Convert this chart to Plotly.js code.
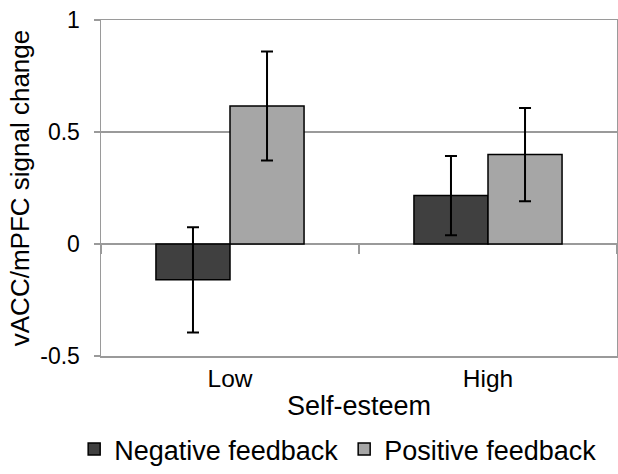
<!DOCTYPE html>
<html>
<head>
<meta charset="utf-8">
<script src="https://cdn.plot.ly/plotly-3.0.1.min.js"></script>
<style>html,body{margin:0;padding:0;background:#fff;}#chart{width:618px;height:474px;}</style>
</head>
<body>
<div id="chart"></div>
<script>
const categories = ["Low", "High"];
const negativeValues = [-0.16, 0.216];
const negativeErrors = [0.235, 0.177];
const positiveValues = [0.616, 0.399];
const positiveErrors = [0.243, 0.208];
const yTickVals = [-0.5, 0, 0.5, 1];
const yTickText = ["-0.5", "0", "0.5", "1"];
const seriesNames = ["Negative feedback", "Positive feedback"];

const FONT = "Liberation Sans, Arial, sans-serif";
const GRAY = "#9a9a9a";

const traces = [
  {
    type: "bar", name: seriesNames[0], x: categories, y: negativeValues,
    marker: {color: "#404040", line: {color: "#000", width: 1.5}},
    error_y: {type: "data", array: negativeErrors, visible: true, color: "#000", thickness: 2, width: 6}
  },
  {
    type: "bar", name: seriesNames[1], x: categories, y: positiveValues,
    marker: {color: "#a6a6a6", line: {color: "#000", width: 1.5}},
    error_y: {type: "data", array: positiveErrors, visible: true, color: "#000", thickness: 2, width: 6}
  },
  {
    // empty helper so the category-divider axis at y = 0 is drawn; draws no marks
    type: "scatter", mode: "none", x: categories, y: [null, null], xaxis: "x2", yaxis: "y",
    showlegend: false, hoverinfo: "skip"
  }
];

const layout = {
  width: 618, height: 474,
  margin: {l: 101, r: 1, t: 20, b: 117},
  paper_bgcolor: "#fff", plot_bgcolor: "#fff",
  font: {family: FONT, color: "#000", size: 23},
  barmode: "group", bargap: 0.426, bargroupgap: 0,
  showlegend: true,
  legend: {orientation: "h", x: -0.052, xanchor: "left", y: -0.347, yanchor: "bottom",
           entrywidth: 225, entrywidthmode: "pixels",
           font: {family: FONT, size: 27, color: "#000"}, itemclick: false},
  xaxis: {
    type: "category", range: [-0.5, 1.5],
    showline: true, linecolor: GRAY, linewidth: 1.5, mirror: true,
    ticks: "", showgrid: false, zeroline: false,
    tickfont: {family: FONT, size: 24.5, color: "#000"},
    title: {text: "Self-esteem", font: {family: FONT, size: 27, color: "#000"}, standoff: 5}
  },
  xaxis2: {
    type: "category", range: [-0.5, 1.5], overlaying: "x", anchor: "free", position: 1/3,
    tickson: "boundaries", ticks: "outside", ticklen: 9, tickwidth: 1.5, tickcolor: GRAY,
    showticklabels: false, showline: false, showgrid: false, zeroline: false
  },
  yaxis: {
    range: [-0.5, 1], tickvals: yTickVals, ticktext: yTickText,
    showline: true, linecolor: GRAY, linewidth: 1.5, mirror: true,
    ticks: "outside", ticklen: 6, tickwidth: 1.5, tickcolor: GRAY, ticklabelstandoff: 9,
    showgrid: true, gridcolor: GRAY, gridwidth: 1.5,
    zeroline: true, zerolinecolor: GRAY, zerolinewidth: 1.5,
    tickfont: {family: FONT, size: 23, color: "#000"},
    title: {text: "vACC/mPFC signal change", font: {family: FONT, size: 26, color: "#000"}, standoff: 3}
  }
};

Plotly.newPlot("chart", traces, layout, {displayModeBar: false, staticPlot: true});
</script>
</body>
</html>
